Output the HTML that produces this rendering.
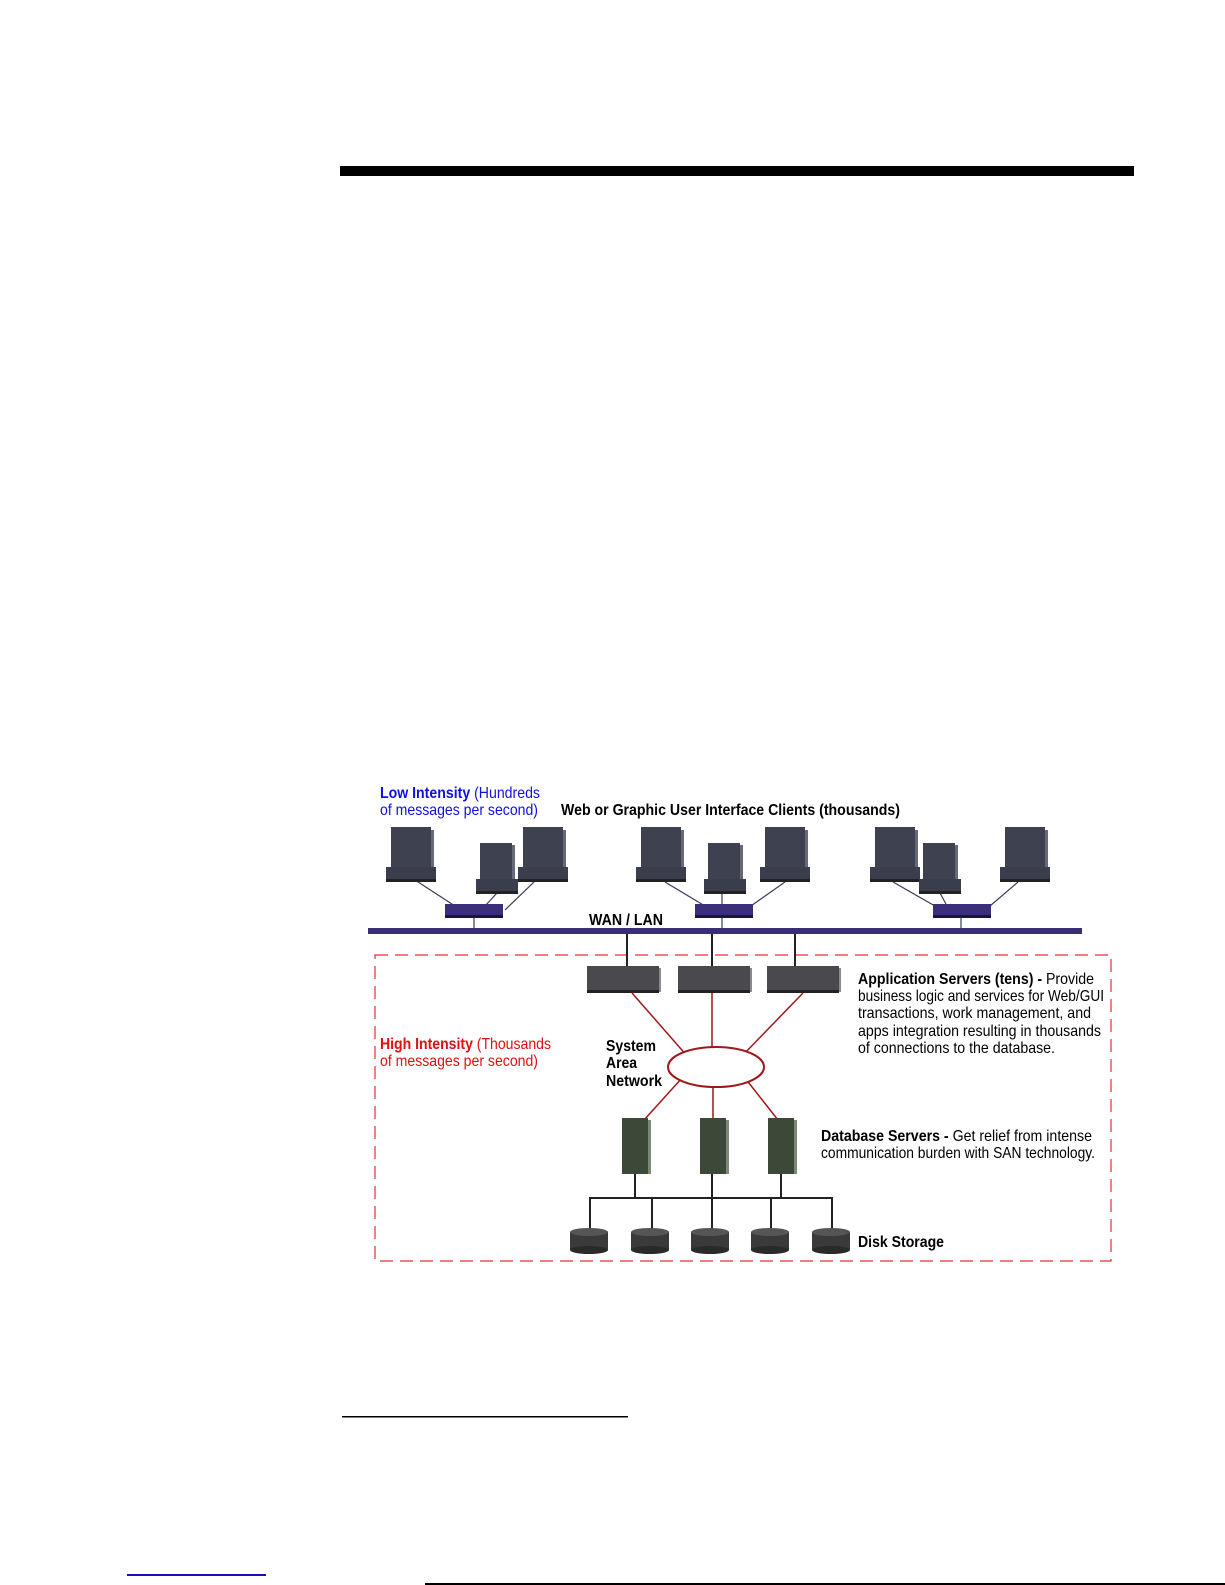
<!DOCTYPE html>
<html><head><meta charset="utf-8"><style>
html,body{margin:0;padding:0;background:#fff;}
svg{display:block;}
text{font-family:"Liberation Sans",Arial,sans-serif;font-size:16px;}
.b{font-weight:bold;}
</style></head><body>
<svg width="1225" height="1585" viewBox="0 0 1225 1585" xmlns="http://www.w3.org/2000/svg">
<defs>
<g id="mon">
<rect x="0" y="0" width="40" height="40" fill="#3e4250"/>
<rect x="40" y="3" width="3" height="37" fill="#666a78"/>
<rect x="-5" y="40" width="50" height="14" fill="#3a3e4c"/>
<rect x="-5" y="52" width="50" height="3" fill="#222"/>
</g>
<g id="smon">
<rect x="0" y="0" width="32" height="36" fill="#3e4250"/>
<rect x="32" y="2" width="3" height="34" fill="#666a78"/>
<rect x="-4" y="36" width="42" height="14" fill="#3a3e4c"/>
<rect x="-4" y="48" width="42" height="3" fill="#222"/>
</g>
<g id="hub">
<rect x="0" y="0" width="58" height="12" fill="#3a2f78"/>
<rect x="0" y="11" width="58" height="3" fill="#1a1440"/>
</g>
<g id="app">
<rect x="0" y="0" width="72" height="25" fill="#4a4a4e"/>
<rect x="0" y="24" width="72" height="3" fill="#222"/>
<rect x="72" y="2" width="2" height="24" fill="#8a8a90"/>
</g>
<g id="db">
<rect x="0" y="0" width="26" height="56" fill="#3c4838"/>
<rect x="26" y="2" width="3" height="54" fill="#7a8a74"/>
</g>
<g id="disk">
<rect x="0" y="4" width="38" height="18" fill="#3a3a3a"/>
<ellipse cx="19" cy="4" rx="19" ry="4" fill="#555"/>
<ellipse cx="19" cy="22" rx="19" ry="4" fill="#2a2a2a"/>
</g>
</defs>

<rect x="340" y="166" width="794" height="10" fill="#000"/>

<text x="380" y="798" fill="#1010e0" textLength="160" lengthAdjust="spacingAndGlyphs"><tspan class="b">Low Intensity</tspan> (Hundreds</text>
<text x="380" y="815" fill="#1010e0" textLength="158" lengthAdjust="spacingAndGlyphs">of messages per second)</text>
<text x="561" y="815" class="b" fill="#000" textLength="339" lengthAdjust="spacingAndGlyphs">Web or Graphic User Interface Clients (thousands)</text>

<g stroke="#3a3a5a" stroke-width="1.2">
<line x1="415" y1="880" x2="455" y2="906"/><line x1="497" y1="893" x2="485" y2="906"/><line x1="535" y1="881" x2="505" y2="910"/>
<line x1="665" y1="882" x2="705" y2="906"/><line x1="722" y1="893" x2="722" y2="906"/><line x1="785" y1="882" x2="748" y2="908"/>
<line x1="893" y1="882" x2="935" y2="906"/><line x1="940" y1="893" x2="947" y2="906"/><line x1="1018" y1="882" x2="990" y2="906"/>
<line x1="474" y1="918" x2="474" y2="930"/><line x1="722" y1="918" x2="722" y2="930"/><line x1="961" y1="918" x2="961" y2="930"/>
</g>
<use href="#mon" x="391" y="827"/>
<use href="#smon" x="480" y="843"/>
<use href="#mon" x="523" y="827"/>
<use href="#mon" x="641" y="827"/>
<use href="#smon" x="708" y="843"/>
<use href="#mon" x="765" y="827"/>
<use href="#mon" x="875" y="827"/>
<use href="#smon" x="923" y="843"/>
<use href="#mon" x="1005" y="827"/>
<use href="#hub" x="445" y="904"/>
<use href="#hub" x="695" y="904"/>
<use href="#hub" x="933" y="904"/>

<rect x="368" y="928" width="714" height="6" fill="#3a2f70"/>
<text x="589" y="925" class="b" textLength="74" lengthAdjust="spacingAndGlyphs">WAN / LAN</text>

<rect x="375" y="955" width="736" height="306" fill="none" stroke="#e03030" stroke-width="1.2" stroke-dasharray="13,7"/>

<g stroke="#222" stroke-width="2">
<line x1="627" y1="934" x2="627" y2="966"/><line x1="712" y1="934" x2="712" y2="966"/><line x1="795" y1="934" x2="795" y2="966"/>
</g>
<use href="#app" x="587" y="966"/>
<use href="#app" x="678" y="966"/>
<use href="#app" x="767" y="966"/>

<g stroke="#a01818" stroke-width="1.5">
<line x1="632" y1="993" x2="688" y2="1057"/><line x1="712" y1="993" x2="712" y2="1047"/><line x1="803" y1="993" x2="741" y2="1057"/>
<line x1="682" y1="1078" x2="644" y2="1120"/><line x1="713" y1="1087" x2="713" y2="1120"/><line x1="745" y1="1078" x2="778" y2="1120"/>
</g>
<ellipse cx="716" cy="1067" rx="48" ry="20" fill="#fff" stroke="#a01818" stroke-width="2"/>

<text x="606" y="1051" class="b" textLength="50" lengthAdjust="spacingAndGlyphs">System</text>
<text x="606" y="1068" class="b" textLength="31" lengthAdjust="spacingAndGlyphs">Area</text>
<text x="606" y="1086" class="b" textLength="56" lengthAdjust="spacingAndGlyphs">Network</text>

<text x="380" y="1049" fill="#e01010" textLength="171" lengthAdjust="spacingAndGlyphs"><tspan class="b">High Intensity</tspan> (Thousands</text>
<text x="380" y="1066" fill="#e01010" textLength="158" lengthAdjust="spacingAndGlyphs">of messages per second)</text>

<text x="858" y="984" textLength="236" lengthAdjust="spacingAndGlyphs"><tspan class="b">Application Servers (tens) -</tspan> Provide</text>
<text x="858" y="1001" textLength="246" lengthAdjust="spacingAndGlyphs">business logic and services for Web/GUI</text>
<text x="858" y="1018" textLength="233" lengthAdjust="spacingAndGlyphs">transactions, work management, and</text>
<text x="858" y="1036" textLength="243" lengthAdjust="spacingAndGlyphs">apps integration resulting in thousands</text>
<text x="858" y="1053" textLength="197" lengthAdjust="spacingAndGlyphs">of connections to the database.</text>

<use href="#db" x="622" y="1118"/>
<use href="#db" x="700" y="1118"/>
<use href="#db" x="768" y="1118"/>

<text x="821" y="1141" textLength="271" lengthAdjust="spacingAndGlyphs"><tspan class="b">Database Servers -</tspan> Get relief from intense</text>
<text x="821" y="1158" textLength="274" lengthAdjust="spacingAndGlyphs">communication burden with SAN technology.</text>

<g stroke="#222" stroke-width="2">
<line x1="635" y1="1174" x2="635" y2="1198"/><line x1="712" y1="1174" x2="712" y2="1198"/><line x1="781" y1="1174" x2="781" y2="1198"/>
<line x1="589" y1="1198" x2="833" y2="1198"/>
<line x1="590" y1="1198" x2="590" y2="1230"/><line x1="652" y1="1198" x2="652" y2="1230"/><line x1="712" y1="1198" x2="712" y2="1230"/><line x1="771" y1="1198" x2="771" y2="1230"/><line x1="832" y1="1198" x2="832" y2="1230"/>
</g>
<use href="#disk" x="570" y="1228"/>
<use href="#disk" x="631" y="1228"/>
<use href="#disk" x="691" y="1228"/>
<use href="#disk" x="751" y="1228"/>
<use href="#disk" x="812" y="1228"/>
<text x="858" y="1247" class="b" textLength="86" lengthAdjust="spacingAndGlyphs">Disk Storage</text>

<rect x="342" y="1416" width="286" height="1.5" fill="#000"/>
<rect x="127" y="1574" width="139" height="2" fill="#1010c0"/>
<rect x="425" y="1583" width="800" height="2" fill="#000"/>
</svg>
</body></html>
